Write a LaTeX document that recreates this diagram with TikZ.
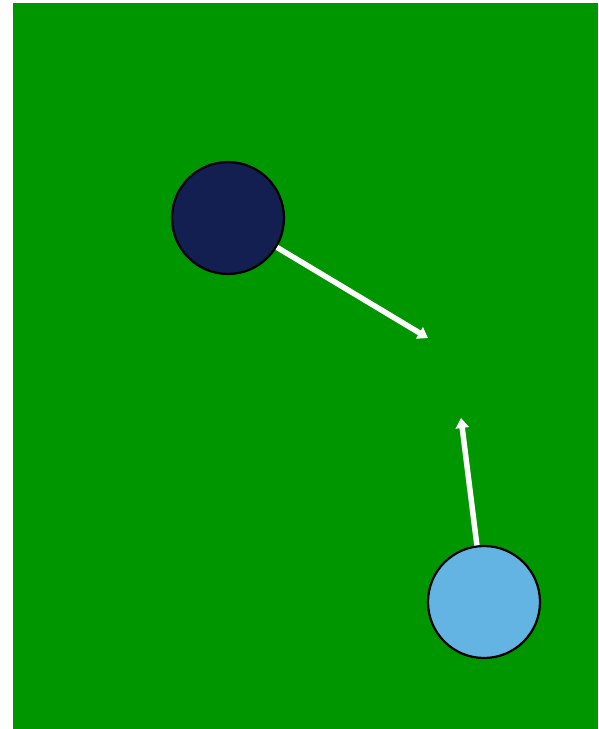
\documentclass[tikz,border=0pt]{standalone}
\usetikzlibrary{arrows.meta}
\definecolor{bggreen}{HTML}{009600}
\definecolor{navy}{HTML}{121F50}
\definecolor{sky}{HTML}{63B3E3}
\tikzset{
  ball/.style={circle,draw=black,line width=2.2pt,minimum size=112pt,inner sep=0pt},
  push/.style={white,line width=5.5pt,-{Triangle[length=10pt,width=13pt]}}
}
\begin{document}
\begin{tikzpicture}[x=1pt,y=-1pt]
\useasboundingbox (0,0) rectangle (598,729);
\fill[bggreen] (13,3) rectangle (598,729);
\node[ball,fill=navy] (a) at (228,218) {};
\node[ball,fill=sky] (b) at (484,602) {};
\coordinate (ta) at (428,338);
\coordinate (tb) at (461,418);
\draw[push] (a) -- (ta);
\draw[push] (b) -- (tb);
\end{tikzpicture}
\end{document}
